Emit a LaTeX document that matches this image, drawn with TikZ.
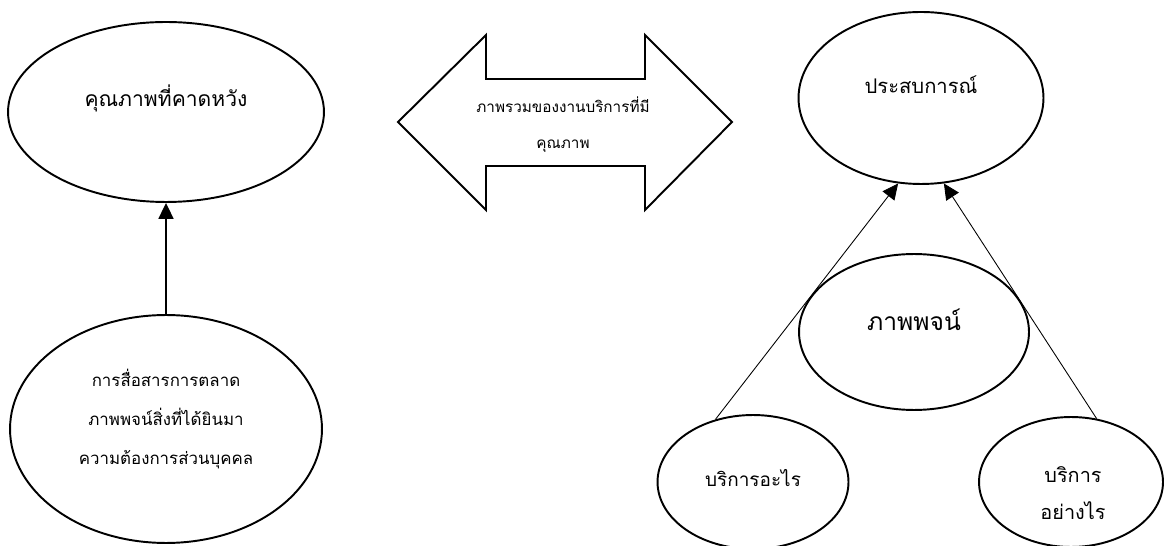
\documentclass[tikz,border=0pt]{standalone}
\usepackage{fontspec}
\newfontfamily\thaifont[Script=Thai]{Loma}
\usepackage{tikz}
\usetikzlibrary{shapes.geometric,arrows.meta}

\begin{document}
\begin{tikzpicture}[x=0.02cm, y=-0.02cm, font=\thaifont, every node/.style={align=center},
  oval/.style={ellipse, draw, line width=1.1pt, inner sep=0pt},
  lbl/.style={font=\thaifont\fontsize{12}{22}\selectfont},
  small/.style={font=\thaifont\fontsize{9.6}{22}\selectfont},
  arr/.style={-{Triangle[length=9pt,width=8.5pt]}, line width=0.9pt},
  thin/.style={-{Triangle[length=9pt,width=8.5pt]}, line width=0.5pt}]
\useasboundingbox (0,0) rectangle (1168,546);
% left column
\node[oval, minimum width=6.32cm, minimum height=3.6cm] (expect) at (166,112) {};
\node[lbl] (expectlbl) at (166,98) {คุณภาพที่คาดหวัง};
\node[oval, minimum width=6.24cm, minimum height=4.56cm] (comm) at (166,429) {};
\node[small] (commlbl) at (166,419) {การสื่อสารการตลาด\\ภาพพจน์สิ่งที่ได้ยินมา\\ความต้องการส่วนบุคคล};
\draw[arr] (comm.north) -- (expect.south);
% double arrow in the middle
\draw[line width=1.1pt, line join=miter] (398,122) -- (486,35) -- (486,79) -- (645,79) -- (645,35)
  -- (732,122) -- (645,210) -- (645,166) -- (486,166) -- (486,210) -- cycle;
\node[small, font=\thaifont\fontsize{8.7}{20.4}\selectfont] (overall) at (563,125) {ภาพรวมของงานบริการที่มี\\คุณภาพ};
% right side
\node[oval, minimum width=4.9cm, minimum height=3.44cm] (exp) at (921,98) {};
\node[lbl, font=\thaifont\fontsize{11.5}{22}\selectfont] (explbl) at (921,85) {ประสบการณ์};
\node[oval, minimum width=4.6cm, minimum height=3.12cm] (image) at (914,332) {};
\node[lbl, font=\thaifont\fontsize{14}{22}\selectfont] (imagelbl) at (914,320) {ภาพพจน์};
\node[oval, minimum width=3.82cm, minimum height=2.68cm] (what) at (753,482) {};
\node[small, font=\thaifont\fontsize{10.8}{21}\selectfont] (whatlbl) at (753,478) {บริการอะไร};
\node[oval, minimum width=3.68cm, minimum height=2.6cm] (how) at (1071,482) {};
\node[small, font=\thaifont\fontsize{11.3}{21}\selectfont] (howlbl) at (1073,493) {บริการ\\อย่างไร};
\draw[thin] (what.121) -- (exp.255);
\draw[thin] (how.68) -- (exp.285);
\end{tikzpicture}
\end{document}
